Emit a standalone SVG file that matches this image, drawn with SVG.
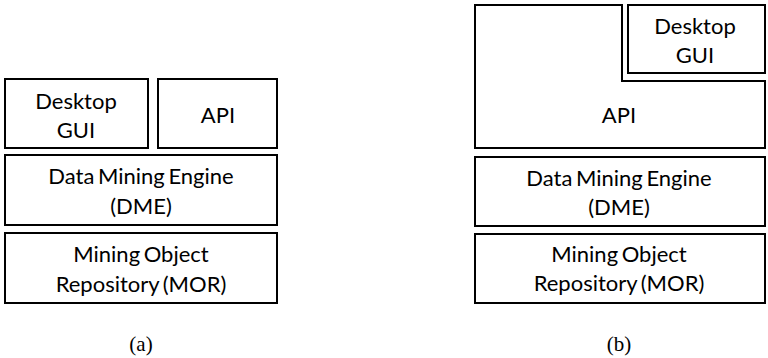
<svg xmlns="http://www.w3.org/2000/svg" width="768" height="358" viewBox="0 0 768 358">
<style>
.b{fill:#fff;stroke:#000;stroke-width:2}
.t{font-family:Lato,"Open Sans","Liberation Sans",sans-serif;font-size:22px;word-spacing:-2px;fill:#000;text-anchor:middle}
.c{font-family:"Liberation Serif",serif;font-size:21px;fill:#000;text-anchor:middle}
</style>
<rect width="768" height="358" fill="#fff"/>
<g id="a-gui"><rect class="b" x="5" y="79" width="143" height="69"/><text class="t" x="76" y="109">Desktop</text><text class="t" x="76" y="138">GUI</text></g>
<g id="a-api"><rect class="b" x="158" y="79" width="119" height="69"/><text class="t" x="218" y="123">API</text></g>
<g id="a-dme"><rect class="b" x="5" y="155" width="272" height="70"/><text class="t" x="141" y="184">Data Mining Engine</text><text class="t" x="141" y="214">(DME)</text></g>
<g id="a-mor"><rect class="b" x="5" y="233" width="272" height="70"/><text class="t" x="141" y="262">Mining Object</text><text class="t" x="141" y="292">Repository (MOR)</text></g>
<text class="c" x="141" y="351">(a)</text>
<g id="b-api"><path class="b" d="M475,5 H622 V81 H765 V148 H475 Z"/><text class="t" x="619" y="123">API</text></g>
<g id="b-gui"><rect class="b" x="628" y="5" width="137" height="68"/><text class="t" x="695" y="34">Desktop</text><text class="t" x="695" y="63">GUI</text></g>
<g id="b-dme"><rect class="b" x="475" y="157" width="290" height="69"/><text class="t" x="619" y="186">Data Mining Engine</text><text class="t" x="619" y="215">(DME)</text></g>
<g id="b-mor"><rect class="b" x="475" y="234" width="290" height="69"/><text class="t" x="619" y="262">Mining Object</text><text class="t" x="619" y="291">Repository (MOR)</text></g>
<text class="c" x="619" y="351">(b)</text>
<g id="connectors"/>
</svg>
